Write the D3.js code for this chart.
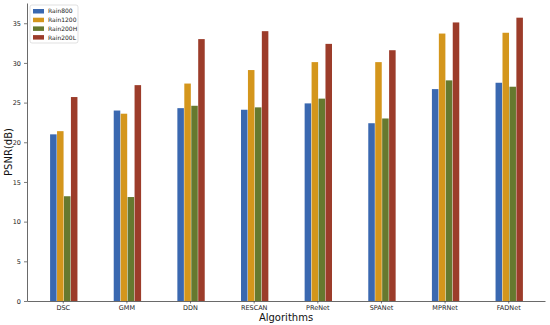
<!DOCTYPE html>
<html>
<head>
<meta charset="utf-8">
<script src="https://cdn.jsdelivr.net/npm/d3@7"></script>
<style>
  body { margin: 0; background: #fff; }
  text { font-family: "DejaVu Sans", sans-serif; }
</style>
</head>
<body>
<script>
// chart data
var algorithms = ["DSC", "GMM", "DDN", "RESCAN", "PReNet", "SPANet", "MPRNet", "FADNet"];
var datasets = ["Rain800", "Rain1200", "Rain200H", "Rain200L"];
var rain800  = [21.0, 24.0, 24.3, 24.1, 24.9, 22.4, 26.7, 27.5];
var rain1200 = [21.4, 23.6, 27.4, 29.1, 30.1, 30.1, 33.7, 33.8];
var rain200H = [13.2, 13.1, 24.6, 24.4, 25.5, 23.0, 27.8, 27.0];
var rain200L = [25.7, 27.2, 33.0, 34.0, 32.4, 31.6, 35.1, 35.7];
var yTicks = [0, 5, 10, 15, 20, 25, 30, 35];
var colors = ["#3a68b0", "#d4961c", "#66792f", "#9c3c2a"];

var series = [rain800, rain1200, rain200H, rain200L];

var W = 550, H = 325;
var mLeft = 27, mRight = 545, mTop = 3, mBottom = 301;

var svg = d3.select("body").append("svg")
  .attr("width", W)
  .attr("height", H);

var x = d3.scaleBand()
  .domain(algorithms)
  .range([mLeft, mRight])
  .paddingOuter(0.07)
  .paddingInner(0);

var y = d3.scaleLinear()
  .domain([0, 37.55])
  .range([mBottom, mTop]);

var groupW = x.bandwidth() * 0.43;
var sub = d3.scaleBand()
  .domain(datasets)
  .range([0, groupW])
  .paddingInner(0.06);

// bars
series.forEach(function(vals, s){
  svg.append("g")
    .selectAll("rect")
    .data(vals)
    .enter()
    .append("rect")
    .attr("x", function(d, i){ return x(algorithms[i]) + x.bandwidth() / 2 - groupW / 2 + 0.5 + sub(datasets[s]); })
    .attr("y", function(d){ return y(d); })
    .attr("width", sub.bandwidth())
    .attr("height", function(d){ return mBottom - y(d); })
    .attr("fill", colors[s]);
});

// axes
var xAxis = svg.append("g")
  .attr("transform", "translate(0," + mBottom + ")")
  .call(d3.axisBottom(x).tickSize(2.5).tickPadding(1.5).tickSizeOuter(0));
xAxis.selectAll("text").attr("font-size", 6.5).attr("fill", "#222");

var yAxis = svg.append("g")
  .attr("transform", "translate(" + mLeft + ",0)")
  .call(d3.axisLeft(y).tickValues(yTicks).tickSize(3).tickSizeOuter(0));
yAxis.selectAll("text").attr("font-size", 6.5).attr("fill", "#222");

svg.selectAll(".domain").attr("stroke", "#444").attr("stroke-width", 0.8);
svg.selectAll(".tick line").attr("stroke", "#444").attr("stroke-width", 0.7);

// axis titles
svg.append("text")
  .attr("x", (mLeft + mRight) / 2)
  .attr("y", 321)
  .attr("text-anchor", "middle")
  .attr("font-size", 10)
  .attr("fill", "#111")
  .text("Algorithms");

svg.append("text")
  .attr("transform", "translate(12," + ((mTop + mBottom) / 2) + ") rotate(-90)")
  .attr("text-anchor", "middle")
  .attr("font-size", 10)
  .attr("fill", "#111")
  .text("PSNR(dB)");

// legend
var lg = svg.append("g").attr("transform", "translate(30,5)");
lg.append("rect")
  .attr("width", 48).attr("height", 38).attr("rx", 2)
  .attr("fill", "#fff").attr("fill-opacity", 0.8)
  .attr("stroke", "#ccc").attr("stroke-width", 0.6);
datasets.forEach(function(name, i){
  lg.append("rect")
    .attr("x", 3).attr("y", 4 + i * 8.7)
    .attr("width", 11).attr("height", 4.5)
    .attr("fill", colors[i]);
  lg.append("text")
    .attr("x", 18).attr("y", 6.3 + i * 8.7)
    .attr("dy", "0.35em")
    .attr("font-size", 6)
    .attr("fill", "#222")
    .text(name);
});
</script>
</body>
</html>
